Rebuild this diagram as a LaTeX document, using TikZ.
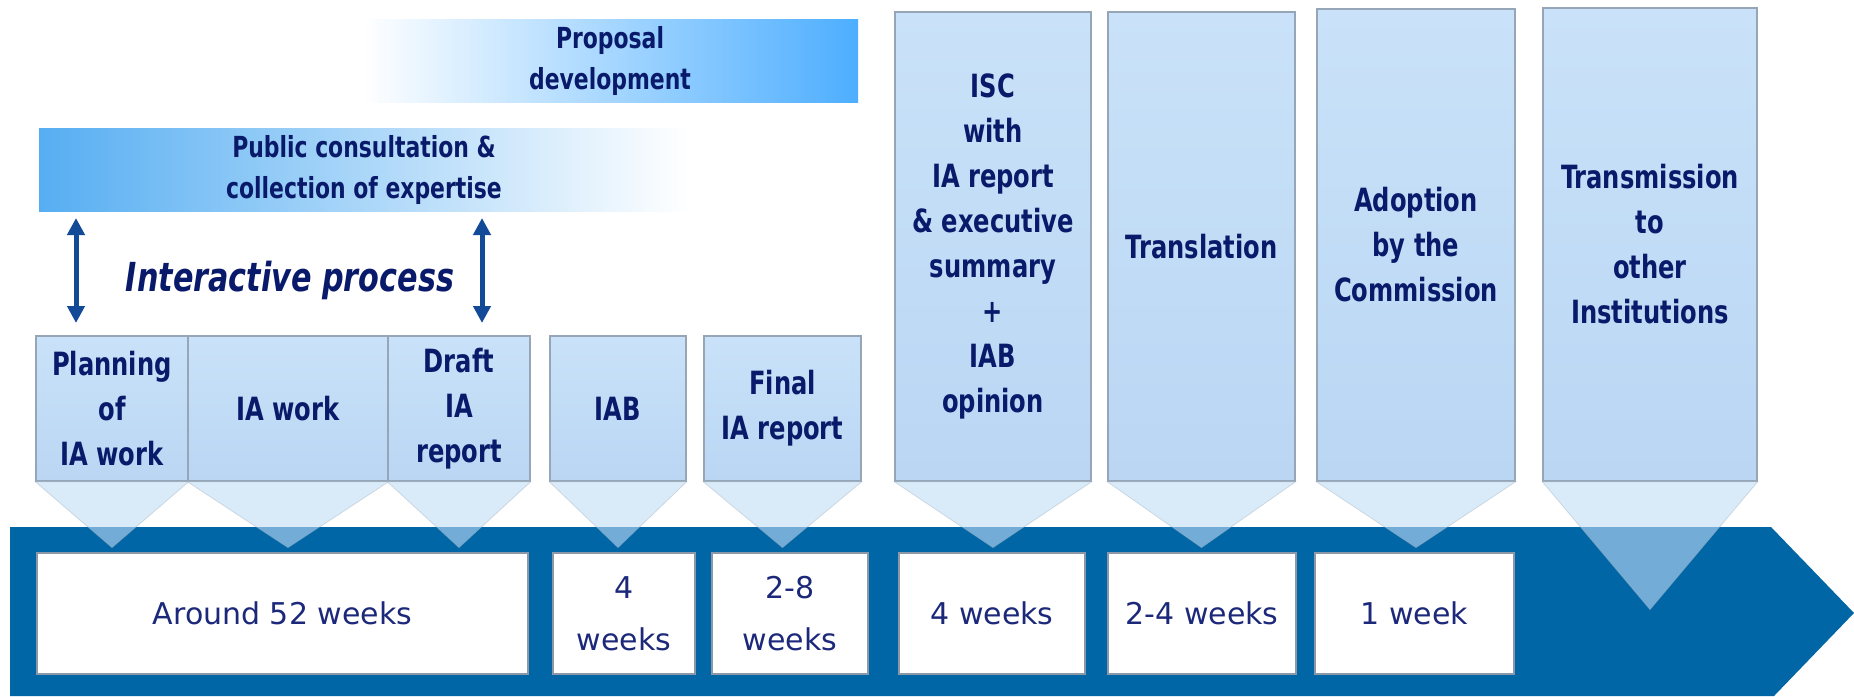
\documentclass[tikz,border=0pt]{standalone}
\usepackage{fontspec}
\newfontfamily\labfont[FakeStretch=0.84]{DejaVu Sans Condensed}
\newfontfamily\wkfont{DejaVu Sans}
\usetikzlibrary{arrows.meta,calc}
\definecolor{band}{RGB}{0,102,166}
\definecolor{boxtop}{RGB}{201,226,249}
\definecolor{boxbot}{RGB}{186,214,243}
\definecolor{boxline}{RGB}{150,166,182}
\definecolor{trifill}{RGB}{192,220,246}
\definecolor{ink}{RGB}{10,26,106}
\definecolor{wkink}{RGB}{28,40,122}
\definecolor{wkline}{RGB}{140,152,168}
\definecolor{arrowblue}{RGB}{18,74,152}
\definecolor{propend}{RGB}{77,174,255}
\definecolor{pubstart}{RGB}{86,174,242}
\begin{document}
\begin{tikzpicture}[x=1pt,y=-1pt,
  labbox/.style={draw=boxline, line width=1.4pt, top color=boxtop, bottom color=boxbot,
    text=ink, font=\labfont\bfseries\fontsize{32}{45}\selectfont, align=center, inner sep=0pt},
  wkbox/.style={draw=wkline, line width=1.2pt, fill=white, text=wkink,
    font=\wkfont\fontsize{30}{52}\selectfont, align=center, inner sep=0pt, minimum height=121pt},
  barlabel/.style={text=ink, font=\labfont\bfseries\fontsize{29}{41}\selectfont, align=center,
    inner sep=0pt, minimum height=83pt},
  pointer/.style={fill=trifill, fill opacity=0.6, draw=boxline, draw opacity=0.35, line width=0.8pt},
  linkarrow/.style={draw=arrowblue, line width=5pt, {Triangle[length=17pt,width=17pt]}-{Triangle[length=17pt,width=17pt]}}
]
\useasboundingbox (0,0) rectangle (1854,696);
\fill[white] (0,0) rectangle (1854,696);

% phase bars
\node[barlabel, minimum width=496pt, left color=white, right color=propend] (prop) at (610,60.5) {Proposal\\development};
\node[barlabel, minimum width=650pt, left color=pubstart, right color=white] (pub) at (364,169.5) {Public consultation \&\\collection of expertise};

% interactive process
\coordinate (l1) at (76,218);
\coordinate (l2) at (76,323);
\coordinate (r1) at (482,218);
\coordinate (r2) at (482,323);
\draw[linkarrow] (l1) -- (l2);
\draw[linkarrow] (r1) -- (r2);
\node[text=ink, font=\labfont\bfseries\itshape\fontsize{40}{44}\selectfont, inner sep=0pt] (inter) at (290,280) {Interactive process};

% time band
\fill[band] (10,527) -- (1771,527) -- (1854,613) -- (1774,696) -- (10,696) -- cycle;

% process steps
\node[labbox, minimum width=152pt, minimum height=145pt] (plan) at (112,408.5) {Planning\\of\\IA work};
\node[labbox, minimum width=200pt, minimum height=145pt] (iawork) at (288,408.5) {IA work};
\node[labbox, minimum width=142pt, minimum height=145pt] (draft) at (459,408.5) {Draft\\IA\\report};
\node[labbox, minimum width=136pt, minimum height=145pt] (iab) at (618,408.5) {IAB};
\node[labbox, minimum width=157pt, minimum height=145pt] (final) at (782.5,408.5) {Final\\IA report};
\node[labbox, minimum width=196pt, minimum height=469pt] (isc) at (993,246.5) {ISC\\with\\IA report\\\& executive\\summary\\+\\IAB\\opinion};
\node[labbox, minimum width=187pt, minimum height=469pt] (transl) at (1201.5,246.5) {Translation};
\node[labbox, minimum width=198pt, minimum height=472pt] (adopt) at (1416,245) {Adoption\\by the\\Commission};
\node[labbox, minimum width=214pt, minimum height=473pt] (transm) at (1650,244.5) {Transmission\\to\\other\\Institutions};

% pointers onto the band
\foreach \b in {plan,iawork,draft,iab,final,isc,transl,adopt}{
  \path[pointer] (\b.south west) -- (\b.south east) -- ($(\b.south)+(0,66)$) -- cycle;
}
\path[pointer] (transm.south west) -- (transm.south east) -- ($(transm.south)+(0,128)$) -- cycle;

% durations
\node[wkbox, minimum width=491pt] (w52) at (282.5,613.5) {Around 52 weeks};
\node[wkbox, minimum width=142pt] (w4a) at (624,613.5) {4\\weeks};
\node[wkbox, minimum width=156pt] (w28) at (790,613.5) {2-8\\weeks};
\node[wkbox, minimum width=186pt] (w4b) at (992,613.5) {4 weeks};
\node[wkbox, minimum width=188pt] (w24) at (1202,613.5) {2-4 weeks};
\node[wkbox, minimum width=199pt] (w1) at (1414.5,613.5) {1 week};
\end{tikzpicture}
\end{document}
